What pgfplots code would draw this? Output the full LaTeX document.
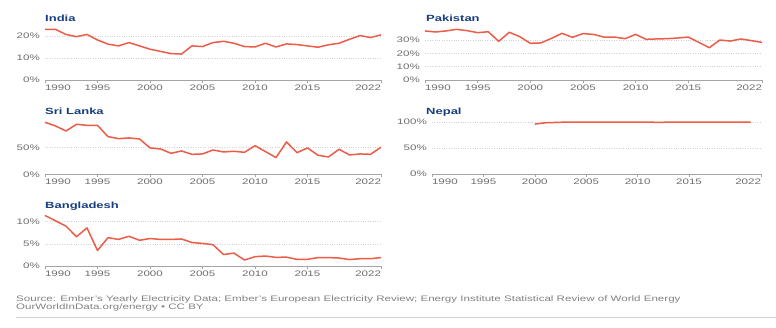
\documentclass[border=0pt]{standalone}
\usepackage{fontspec}
\setmainfont{Liberation Sans}[FakeStretch=1.45]
\usepackage{pgfplots}
\pgfplotsset{compat=1.18}

\definecolor{linered}{RGB}{236,92,72}
\definecolor{titleblue}{RGB}{24,62,128}
\definecolor{ticktext}{RGB}{110,110,110}
\definecolor{axisgray}{RGB}{165,165,165}
\definecolor{gridgray}{RGB}{210,210,210}
\definecolor{srcgray}{RGB}{130,130,130}

\pgfplotsset{
  panel/.style={
    scale only axis, anchor=south west,
    xmin=1990, xmax=2022, ymin=0,
    axis x line*=bottom, axis y line*=left,
    x axis line style={draw=axisgray, -, line width=0.6bp},
    y axis line style={draw=none},
    xtick={1990,1995,2000,2005,2010,2015,2022},
    xticklabels={\makebox[0pt][l]{1990},1995,2000,2005,2010,2015,\makebox[0pt][r]{2022}},
    tick align=outside, major tick length=3bp,
    xtick style={draw=axisgray, line width=0.6bp},
    ytick style={draw=none},
    ymajorgrids, major grid style={draw=gridgray, dotted, line width=0.6bp},
    tick label style={font=\fontsize{8}{9}\selectfont, text=ticktext},
    xticklabel style={anchor=north, inner sep=1.5bp},
    yticklabel style={anchor=east, inner sep=2bp},
    cycle list={{draw=linered, mark=none}},
    every axis plot post/.append style={line width=1.5bp, line join=round},
    clip=false,
  },
}
\tikzset{
  ptitle/.style={anchor=base west, inner sep=0, text=titleblue,
    font=\fontsize{9}{10}\selectfont\bfseries},
}

\begin{document}
\begin{tikzpicture}
\fill[white] (0,0) rectangle (776bp,328bp);
\path[use as bounding box] (0,0) rectangle (776bp,328bp);

% India
\begin{axis}[panel, at={(45bp,248bp)}, width=336bp, height=52.8bp, ymax=24,
  ytick={0,10,20}, yticklabels={0\%,10\%,20\%}]
\addplot coordinates {
(1990,23.0) (1991,23.0) (1992,20.7) (1993,19.7) (1994,20.7) (1995,18.2)
(1996,16.3) (1997,15.5) (1998,17.0) (1999,15.5) (2000,14.0) (2001,13.0)
(2002,12.0) (2003,11.8) (2004,15.5) (2005,15.2) (2006,17.0) (2007,17.6)
(2008,16.7) (2009,15.2) (2010,15.0) (2011,16.7) (2012,15.0) (2013,16.4)
(2014,16.1) (2015,15.5) (2016,14.9) (2017,16.0) (2018,16.7) (2019,18.5)
(2020,20.2) (2021,19.3) (2022,20.5)
};
\end{axis}
\node[ptitle] at (45bp,306.3bp) {India};

% Pakistan
\begin{axis}[panel, at={(425bp,248bp)}, width=337bp, height=52bp, ymax=39,
  ytick={0,10,20,30}, yticklabels={0\%,10\%,20\%,30\%}]
\addplot coordinates {
(1990,36.8) (1991,36.0) (1992,36.8) (1993,38.0) (1994,37.0) (1995,35.5)
(1996,36.2) (1997,29.0) (1998,35.8) (1999,32.5) (2000,27.5) (2001,27.8)
(2002,31.2) (2003,35.0) (2004,32.0) (2005,34.8) (2006,34.2) (2007,32.2)
(2008,32.2) (2009,31.0) (2010,34.2) (2011,30.5) (2012,30.8) (2013,31.0)
(2014,31.5) (2015,32.2) (2016,28.2) (2017,24.2) (2018,30.0) (2019,29.2)
(2020,30.8) (2021,29.5) (2022,28.2)
};
\end{axis}
\node[ptitle] at (426bp,306.3bp) {Pakistan};

% Sri Lanka
\begin{axis}[panel, at={(45bp,153.7bp)}, width=336bp, height=52.4bp, ymax=97,
  ytick={0,50}, yticklabels={0\%,50\%}]
\addplot coordinates {
(1990,96.3) (1991,89.5) (1992,80.2) (1993,92.6) (1994,90.7) (1995,90.7)
(1996,69.8) (1997,66.0) (1998,67.3) (1999,65.4) (2000,48.8) (2001,46.9)
(2002,38.9) (2003,43.2) (2004,37.0) (2005,37.7) (2006,45.0) (2007,41.4)
(2008,42.6) (2009,40.7) (2010,53.0) (2011,42.0) (2012,30.9) (2013,59.9)
(2014,40.0) (2015,48.8) (2016,35.2) (2017,32.1) (2018,46.3) (2019,35.8)
(2020,37.7) (2021,37.0) (2022,50.0)
};
\end{axis}
\node[ptitle] at (45bp,213bp) {Sri Lanka};

% Nepal
\begin{axis}[panel, at={(432bp,154bp)}, width=329bp, height=52.5bp, ymax=101,
  ytick={0,50,100}, yticklabels={0\%,50\%,100\%}]
\addplot coordinates {
(2000,96.0) (2001,98.5) (2002,99.2) (2003,99.8) (2004,99.8) (2005,99.8)
(2006,99.8) (2007,99.8) (2008,99.8) (2009,99.8) (2010,99.8) (2011,99.8)
(2012,99.4) (2013,99.7) (2014,99.8) (2015,99.8) (2016,99.8) (2017,99.8)
(2018,99.8) (2019,99.8) (2020,99.8) (2021,99.8)
};
\end{axis}
\node[ptitle] at (426bp,213bp) {Nepal};

% Bangladesh
\begin{axis}[panel, at={(45bp,62bp)}, width=336bp, height=51.4bp, ymax=11.6,
  ytick={0,5,10}, yticklabels={0\%,5\%,10\%}]
\addplot coordinates {
(1990,11.4) (1991,10.2) (1992,9.0) (1993,6.6) (1994,8.6) (1995,3.5)
(1996,6.4) (1997,6.0) (1998,6.7) (1999,5.8) (2000,6.2) (2001,6.0)
(2002,6.0) (2003,6.1) (2004,5.3) (2005,5.1) (2006,4.8) (2007,2.6)
(2008,2.9) (2009,1.35) (2010,2.1) (2011,2.25) (2012,1.95) (2013,2.0)
(2014,1.5) (2015,1.5) (2016,1.9) (2017,1.9) (2018,1.8) (2019,1.45)
(2020,1.65) (2021,1.65) (2022,1.9)
};
\end{axis}
\node[ptitle] at (45bp,119.7bp) {Bangladesh};

% footer
\node[anchor=base west, inner sep=0, text=srcgray, font=\fontsize{8}{9}\selectfont]
  at (16bp,27bp) {Source: Ember's Yearly Electricity Data; Ember's European Electricity Review; Energy Institute Statistical Review of World Energy};
\node[anchor=base west, inner sep=0, text=srcgray, font=\fontsize{8}{9}\selectfont]
  at (16bp,18.5bp) {OurWorldInData.org/energy • CC BY};
\draw[gridgray, line width=1bp] (16bp,10bp) -- (776bp,10bp);
\end{tikzpicture}
\end{document}
